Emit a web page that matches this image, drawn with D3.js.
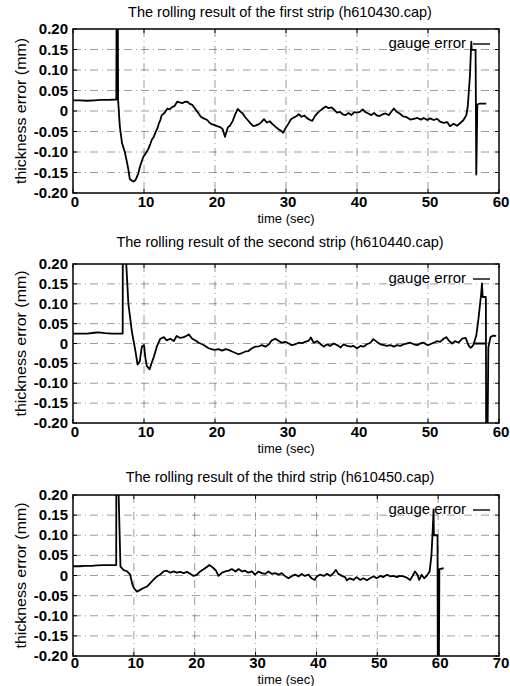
<!DOCTYPE html>
<html>
<head>
<meta charset="utf-8">
<script src="https://cdn.jsdelivr.net/npm/d3@7"></script>
<style>
  body { margin: 0; background: #fff; }
  svg { display: block; font-family: "Liberation Sans", Arial, Helvetica, sans-serif; }
  .tick-lbl { font-size: 15px; font-weight: bold; }
  .title { font-size: 14.5px; }
  .axis-lbl { font-size: 13px; }
</style>
</head>
<body>
<svg width="510" height="686"></svg>
<script>
// ---- data: [time (sec), thickness error (mm)] ----
var titles = [
    "The rolling result of the first strip (h610430.cap)",
    "The rolling result of the second strip (h610440.cap)",
    "The rolling result of the third strip (h610450.cap)"
];
var xMax = [60, 60, 70];
var yTicks = [0.20, 0.15, 0.10, 0.05, 0, -0.05, -0.10, -0.15, -0.20];
var yTickLabels = ["0.20", "0.15", "0.10", "0.05", "0", "-0.05", "-0.10", "-0.15", "-0.20"];
var legendLabel = "gauge error";

var strip1 = [[0,0.026],[1,0.026],[2,0.025],[3,0.026],[4,0.027],[5,0.027],[6.1,0.028],[6.15,0.30],[6.3,0.30],[6.35,0.027],
    [6.6,-0.038],[6.9,-0.078],[7.3,-0.100],[7.6,-0.125],[7.8,-0.143],[8.0,-0.166],[8.3,-0.170],[8.5,-0.172],[8.7,-0.170],[8.9,-0.165],
    [9.2,-0.152],[9.4,-0.138],[9.7,-0.122],[9.9,-0.112],[10.2,-0.104],[10.6,-0.093],[10.9,-0.080],[11.1,-0.070],[11.4,-0.062],[11.6,-0.053],
    [11.9,-0.042],[12.1,-0.030],[12.3,-0.022],[12.5,-0.010],[12.8,-0.006],[13.0,-0.002],[13.3,0.006],[13.6,0.004],[14.0,0.010],[14.3,0.012],
    [14.7,0.023],[15.0,0.021],[15.4,0.019],[15.7,0.022],[16.1,0.023],[16.4,0.018],[16.8,0.015],[17.1,0.008],[17.4,0.001],[17.7,-0.006],
    [18.0,-0.014],[18.4,-0.018],[18.9,-0.022],[19.2,-0.028],[19.5,-0.032],[19.9,-0.034],[20.3,-0.037],[20.8,-0.040],[21.1,-0.045],[21.4,-0.063],
    [21.6,-0.052],[21.8,-0.040],[22.1,-0.036],[22.5,-0.024],[22.8,-0.010],[23.2,0.005],[23.5,0.000],[23.9,-0.006],[24.2,-0.014],[24.6,-0.022],
    [25.0,-0.030],[25.4,-0.037],[25.8,-0.035],[26.2,-0.032],[26.6,-0.026],[26.9,-0.020],[27.3,-0.028],[27.7,-0.025],[28.1,-0.032],[28.5,-0.038],
    [28.9,-0.044],[29.3,-0.048],[29.6,-0.053],[29.9,-0.043],[30.3,-0.032],[30.7,-0.020],[31.1,-0.016],[31.5,-0.012],[31.8,-0.008],[32.2,-0.014],
    [32.6,-0.011],[33.0,-0.018],[33.4,-0.022],[33.7,-0.024],[34.1,-0.012],[34.5,-0.004],[34.9,0.002],[35.2,0.006],[35.6,0.011],[36.0,0.007],
    [36.4,0.009],[36.8,0.003],[37.2,-0.004],[37.6,-0.002],[38.0,-0.008],[38.4,-0.010],[38.8,-0.005],[39.2,-0.010],[39.6,-0.003],[40.0,-0.004],
    [40.4,-0.002],[40.8,0.004],[41.2,-0.003],[41.6,-0.006],[42.0,-0.010],[42.4,-0.005],[42.8,-0.011],[43.2,-0.012],[43.6,-0.008],[44.0,-0.006],
    [44.5,-0.010],[44.9,0.000],[45.2,0.006],[45.6,-0.002],[46.0,-0.006],[46.5,-0.013],[47.0,-0.015],[47.5,-0.021],[48.0,-0.019],[48.5,-0.017],
    [49.0,-0.021],[49.4,-0.017],[49.9,-0.022],[50.3,-0.018],[50.8,-0.022],[51.3,-0.019],[51.7,-0.026],[52.2,-0.029],[52.7,-0.027],[53.1,-0.037],
    [53.6,-0.031],[54.1,-0.036],[54.5,-0.030],[55.0,-0.022],[55.4,-0.010],[55.6,0.011],[55.9,0.084],[56.1,0.169],[56.15,0.149],[56.7,0.149],
    [56.8,-0.155],[56.95,0.015],[57.2,0.018],[58.2,0.018]];

var strip2 = [[0,0.025],[1,0.025],[2,0.025],[3,0.027],[3.6,0.028],[4.5,0.026],[5.5,0.025],[7.0,0.025],[7.02,0.30],[7.2,0.30],
    [7.8,0.100],[8.3,0.029],[8.8,-0.020],[9.1,-0.053],[9.4,-0.045],[9.7,-0.008],[10.0,-0.004],[10.2,-0.037],[10.4,-0.057],[10.8,-0.065],
    [11.0,-0.053],[11.4,-0.033],[11.8,-0.008],[12.3,0.012],[12.8,0.016],[13.2,0.008],[13.7,0.012],[14.2,0.006],[14.6,0.019],[15.1,0.014],
    [15.6,0.016],[16.1,0.020],[16.3,0.023],[16.8,0.012],[17.2,0.008],[17.7,0.002],[18.2,-0.002],[18.6,-0.006],[19.1,-0.012],[19.6,-0.015],
    [20.0,-0.016],[20.5,-0.014],[21.0,-0.018],[21.5,-0.014],[21.9,-0.016],[22.4,-0.020],[22.9,-0.024],[23.3,-0.027],[23.8,-0.024],[24.3,-0.020],
    [24.7,-0.019],[25.2,-0.012],[25.7,-0.008],[26.2,-0.007],[26.6,-0.004],[27.1,-0.008],[27.6,-0.002],[28.0,0.008],[28.5,0.012],[29.0,0.006],
    [29.4,0.002],[29.9,0.004],[30.4,0.000],[30.8,-0.004],[31.3,-0.002],[31.8,0.002],[32.3,0.001],[32.7,0.004],[33.2,0.007],[33.5,0.015],
    [33.9,0.002],[34.4,0.006],[34.9,-0.002],[35.3,-0.008],[35.8,-0.002],[36.2,-0.006],[36.7,0.000],[37.2,-0.004],[37.7,-0.010],[38.1,-0.002],
    [38.6,-0.006],[39.1,-0.008],[39.5,-0.006],[40.0,-0.012],[40.5,-0.006],[40.9,-0.008],[41.4,-0.002],[41.9,0.002],[42.3,0.011],[42.8,0.004],
    [43.3,-0.002],[43.8,-0.004],[44.2,-0.006],[44.7,-0.004],[45.2,-0.008],[45.6,-0.004],[46.1,-0.006],[46.6,-0.002],[47.0,0.000],[47.5,0.002],
    [48.0,-0.002],[48.5,-0.004],[48.9,0.000],[49.4,0.002],[49.9,-0.004],[50.3,-0.002],[50.8,0.002],[51.3,0.006],[51.7,0.004],[52.2,0.012],
    [52.6,0.016],[52.9,0.008],[53.4,0.000],[53.8,0.006],[54.3,0.002],[54.8,0.012],[55.3,0.014],[55.7,-0.004],[56.0,-0.011],[56.2,-0.008],
    [56.4,-0.003],[56.8,0.020],[57.1,0.061],[57.5,0.127],[57.6,0.151],[57.7,0.117],[58.15,0.117],[58.2,-0.30],[58.35,-0.30],[58.5,-0.010],
    [58.8,0.016],[59.2,0.020],[59.6,0.019], null, [56.3,0.0],[58.2,0.0]];

var strip3 = [[0,0.023],[1,0.023],[2,0.024],[3,0.024],[4,0.025],[5,0.026],[6,0.026],[7.1,0.026],[7.12,0.30],[7.35,0.30],
    [7.5,0.20],[7.8,0.022],[8.3,0.014],[8.9,0.010],[9.4,0.002],[9.7,-0.019],[10.0,-0.031],[10.5,-0.040],[11.1,-0.035],[11.6,-0.031],
    [12.2,-0.027],[12.7,-0.019],[13.2,-0.011],[13.8,-0.002],[14.3,0.002],[14.9,0.010],[15.4,0.012],[16.0,0.007],[16.5,0.010],[17.1,0.007],
    [17.6,0.009],[18.2,0.006],[18.7,0.009],[19.3,0.004],[19.8,-0.001],[20.4,0.002],[20.9,0.010],[21.5,0.016],[22.0,0.021],[22.4,0.026],
    [22.8,0.022],[23.1,0.018],[23.5,0.012],[23.9,-0.001],[24.5,0.007],[25.0,0.010],[25.6,0.012],[26.1,0.016],[26.7,0.010],[27.2,0.016],
    [27.8,0.010],[28.3,0.012],[28.8,0.007],[29.4,0.010],[29.9,0.002],[30.5,0.010],[31.0,0.006],[31.6,0.004],[32.1,0.010],[32.7,0.004],
    [33.2,0.006],[33.8,0.002],[34.3,0.006],[34.9,-0.002],[35.4,-0.007],[36.0,-0.001],[36.5,0.002],[37.1,-0.002],[37.6,0.004],[38.1,-0.001],
    [38.7,0.002],[39.2,-0.007],[39.7,-0.011],[40.1,-0.002],[40.6,0.002],[41.2,-0.001],[41.7,0.004],[42.3,-0.001],[42.8,0.006],[43.2,0.014],
    [43.6,0.004],[44.2,-0.001],[44.7,-0.004],[45.0,-0.012],[45.5,-0.007],[46.1,-0.011],[46.6,-0.004],[47.2,-0.011],[47.7,-0.007],[48.3,-0.012],
    [48.8,-0.007],[49.4,-0.002],[49.9,-0.007],[50.5,-0.001],[51.0,-0.004],[51.6,0.002],[52.1,-0.002],[52.7,-0.001],[53.2,-0.004],[53.7,-0.001],
    [54.3,-0.002],[54.8,-0.005],[55.4,-0.011],[55.8,-0.001],[56.2,0.010],[56.6,0.002],[56.9,-0.011],[57.3,0.002],[57.7,-0.007],[58.1,-0.001],
    [58.6,0.010],[58.9,0.050],[59.1,0.110],[59.25,0.164],[59.3,0.100],[59.9,0.100],[59.95,-0.30],[60.1,-0.30],[60.2,0.016],[60.9,0.018]];

var strips = [strip1, strip2, strip3];

// ---- layout of each panel (pixels) ----
var plotLeft = 73, plotRight = 499;
var panelTop = [29, 264, 495];
var panelBottom = [193, 423, 656];
var titleY = [17, 247, 482];
var tickLabelGap = [14, 14, 12];
var timeLabelGap = [30, 30, 28];

var svg = d3.select("svg");

strips.forEach(function(data, i) {
    var top = panelTop[i], bottom = panelBottom[i];
    var x = d3.scaleLinear().domain([0, xMax[i]]).range([plotLeft, plotRight]);
    var y = d3.scaleLinear().domain([-0.20, 0.20]).range([bottom, top]);
    var xTicks = d3.range(0, xMax[i] + 1, 10);

    var g = svg.append("g").attr("class", "panel");

    // dash-dot grid
    g.append("g").selectAll("line").data(xTicks.slice(1, -1)).enter().append("line")
        .attr("x1", d => x(d)).attr("x2", d => x(d))
        .attr("y1", top).attr("y2", bottom)
        .attr("stroke", "#333").attr("stroke-width", 0.8)
        .attr("stroke-dasharray", "8,4,1,4").attr("opacity", 0.6);
    g.append("g").selectAll("line").data(yTicks.slice(1, -1)).enter().append("line")
        .attr("x1", plotLeft).attr("x2", plotRight)
        .attr("y1", d => y(d)).attr("y2", d => y(d))
        .attr("stroke", "#333").attr("stroke-width", 0.8)
        .attr("stroke-dasharray", "8,4,1,4").attr("opacity", 0.6);

    // inward tick marks on all four sides
    var tk = g.append("g").attr("stroke", "#000").attr("stroke-width", 1);
    yTicks.forEach(function(v) {
        tk.append("line").attr("x1", plotLeft).attr("x2", plotLeft + 4).attr("y1", y(v)).attr("y2", y(v));
        tk.append("line").attr("x1", plotRight - 4).attr("x2", plotRight).attr("y1", y(v)).attr("y2", y(v));
    });
    xTicks.forEach(function(v) {
        tk.append("line").attr("x1", x(v)).attr("x2", x(v)).attr("y1", bottom).attr("y2", bottom - 4);
        tk.append("line").attr("x1", x(v)).attr("x2", x(v)).attr("y1", top).attr("y2", top + 4);
    });

    // data trace, clipped to the frame
    var clipId = "clip" + i;
    svg.append("clipPath").attr("id", clipId).append("rect")
        .attr("x", plotLeft).attr("y", top)
        .attr("width", plotRight - plotLeft).attr("height", bottom - top);

    var line = d3.line()
        .defined(d => d !== null)
        .x(d => x(d[0]))
        .y(d => y(d[1]));

    g.append("path")
        .datum(data)
        .attr("clip-path", "url(#" + clipId + ")")
        .attr("fill", "none")
        .attr("stroke", "#000")
        .attr("stroke-width", 1.8)
        .attr("stroke-linejoin", "round")
        .attr("d", line);

    // frame
    g.append("rect")
        .attr("x", plotLeft).attr("y", top)
        .attr("width", plotRight - plotLeft).attr("height", bottom - top)
        .attr("fill", "none").attr("stroke", "#000").attr("stroke-width", 1.5);

    // tick labels
    g.append("g").selectAll("text").data(yTicks).enter().append("text")
        .attr("class", "tick-lbl")
        .attr("x", plotLeft - 5).attr("y", d => y(d) + 5)
        .attr("text-anchor", "end")
        .text((d, j) => yTickLabels[j]);
    g.append("g").selectAll("text").data(xTicks).enter().append("text")
        .attr("class", "tick-lbl")
        .attr("x", d => x(d) + 2).attr("y", bottom + tickLabelGap[i])
        .attr("text-anchor", "middle")
        .text(d => d);

    // titles and axis labels
    g.append("text").attr("class", "title")
        .attr("x", (plotLeft + plotRight) / 2 - 6).attr("y", titleY[i])
        .attr("text-anchor", "middle")
        .text(titles[i]);
    g.append("text").attr("class", "axis-lbl")
        .attr("x", (plotLeft + plotRight) / 2).attr("y", bottom + timeLabelGap[i])
        .attr("text-anchor", "middle")
        .text("time (sec)");
    g.append("text").attr("class", "axis-lbl")
        .attr("transform", "translate(26," + ((top + bottom) / 2) + ") rotate(-90)")
        .attr("text-anchor", "middle")
        .attr("textLength", 146).attr("lengthAdjust", "spacingAndGlyphs")
        .style("font-size", "14px")
        .text("thickness error (mm)");

    // legend
    var ly = top + 15;
    g.append("text").attr("class", "axis-lbl")
        .style("font-size", "15px")
        .attr("x", 466).attr("y", ly + 4)
        .attr("text-anchor", "end")
        .text(legendLabel);
    g.append("line")
        .attr("x1", 473).attr("x2", 490).attr("y1", ly).attr("y2", ly)
        .attr("stroke", "#000").attr("stroke-width", 1.4);
});
</script>
</body>
</html>
